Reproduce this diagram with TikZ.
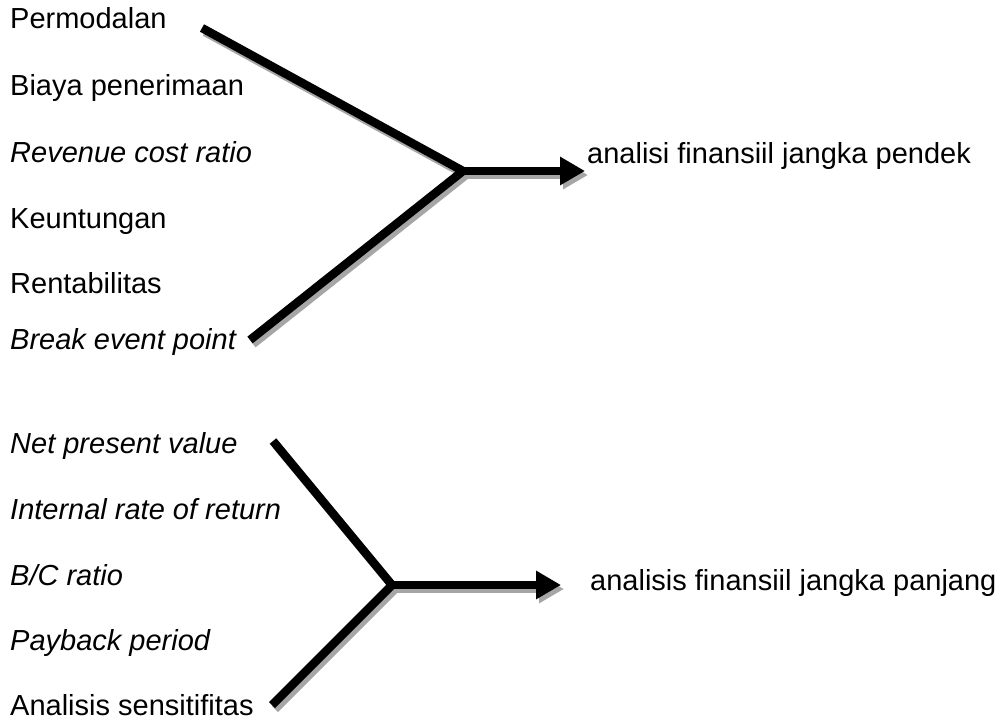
\documentclass[tikz,border=0pt]{standalone}
\usepackage{fontspec}
\setmainfont{Liberation Sans}
\usetikzlibrary{arrows.meta}
\begin{document}
\begin{tikzpicture}[x=1pt,y=-1pt,
  lbl/.style={anchor=base west,inner sep=0pt,font=\fontsize{29}{34}\selectfont},
  bar/.style={line width=8.5pt,black},
  shade/.style={line width=8.5pt,black!35},
  arr/.style={-{Triangle[length=25pt,width=27pt]}}]
\useasboundingbox (0,0) rectangle (1003,720);
% labels top group
\node[lbl] (p1) at (10,28) {Permodalan};
\node[lbl] (p2) at (10,95) {Biaya penerimaan};
\node[lbl] (p3) at (10,162) {\itshape Revenue cost ratio};
\node[lbl] (p4) at (10,228) {Keuntungan};
\node[lbl] (p5) at (10,293) {Rentabilitas};
\node[lbl] (p6) at (10,349) {\itshape Break event point};
\node[lbl] (r1) at (587,163) {analisi finansiil jangka pendek};
% labels bottom group
\node[lbl] (q1) at (10,453) {\itshape Net present value};
\node[lbl] (q2) at (10,519) {\itshape Internal rate of return};
\node[lbl] (q3) at (10,585) {\itshape B/C ratio};
\node[lbl] (q4) at (10,650) {\itshape Payback period};
\node[lbl] (q5) at (10,715) {Analisis sensitifitas};
\node[lbl] (r2) at (590,590) {analisis finansiil jangka panjang};
% connector points
\coordinate (a1) at (202,28);
\coordinate (j1) at (463,171);
\coordinate (b1) at (250,340);
\coordinate (t1) at (585,171);
\coordinate (a2) at (273,441);
\coordinate (j2) at (392,585);
\coordinate (b2) at (272,705);
\coordinate (t2) at (561,585);
% shadows
\begin{scope}[transform canvas={shift={(3pt,-4pt)}}]
\draw[shade] (a1) -- (j1) -- (b1);
\draw[shade,arr] (j1) -- (t1);
\draw[shade] (a2) -- (j2) -- (b2);
\draw[shade,arr] (j2) -- (t2);
\end{scope}
% bars
\draw[bar] (a1) -- (j1) -- (b1);
\draw[bar,arr] (j1) -- (t1);
\draw[bar] (a2) -- (j2) -- (b2);
\draw[bar,arr] (j2) -- (t2);
\end{tikzpicture}
\end{document}
